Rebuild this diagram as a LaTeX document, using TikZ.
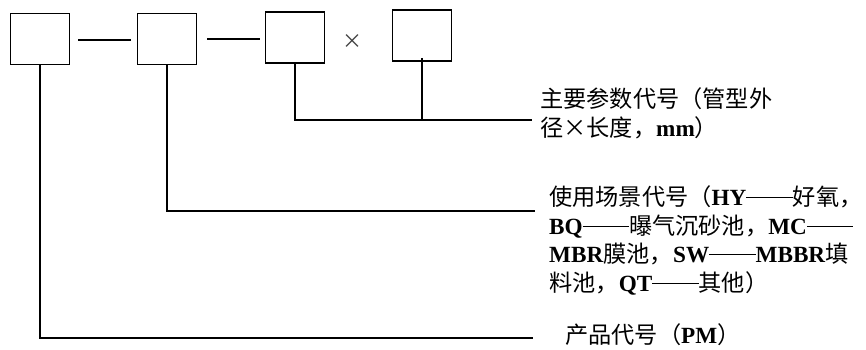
\documentclass[tikz,border=0pt]{standalone}
\usepackage{fontspec}
\setmainfont{Liberation Serif}
\newfontfamily\cjk{Noto Sans CJK SC}
\newcommand{\lat}[1]{\textbf{#1}}
\newcommand{\dd}{\rule[0.3em]{2em}{0.05em}}
\begin{document}
\begin{tikzpicture}[x=1pt,y=-1pt,
  codebox/.style={draw=black,line width=1.8pt,minimum width=59pt,minimum height=51pt,inner sep=0pt},
  lead/.style={draw=black,line width=1.8pt},
  lbl/.style={anchor=west,inner sep=0pt,font=\fontsize{23.2}{28}\selectfont,text height=17pt,text depth=5pt}]
\useasboundingbox (0,0) rectangle (866,349);
% boxes
\node[codebox] (b1) at (40,39) {};
\node[codebox] (b2) at (167,39) {};
\node[codebox] (b3) at (295,37.5) {};
\node[codebox] (b4) at (422,35.5) {};
\node[inner sep=0pt,font=\fontsize{20}{20}\selectfont\cjk,text=black!75] (x) at (352,42) {×};
% dashes between boxes
\draw[lead] ([xshift=8pt]b1.east |- 0,40) -- ([xshift=-6pt]b2.west |- 0,40);
\draw[lead] ([xshift=10pt]b2.east |- 0,39) -- ([xshift=-5pt]b3.west |- 0,39);
% labels
\node[lbl] (t1a) at (540,101) {\cjk 主要参数代号（管型外};
\node[lbl] (t1b) at (540,130) {{\cjk 径×长度，}\lat{mm}{\cjk ）}};
\node[lbl] (t2a) at (549,199) {{\cjk 使用场景代号（}\lat{HY}\dd{\cjk 好氧，}};
\node[lbl] (t2b) at (549,228) {\lat{BQ}\dd{\cjk 曝气沉砂池，}\lat{MC}\dd};
\node[lbl] (t2c) at (549,256) {\lat{MBR}{\cjk 膜池，}\lat{SW}\dd\lat{MBBR}{\cjk 填}};
\node[lbl] (t2d) at (549,285) {{\cjk 料池，}\lat{QT}\dd{\cjk 其他）}};
\node[lbl] (t3) at (565,337) {{\cjk 产品代号（}\lat{PM}{\cjk ）}};
% leader end points
\coordinate (e1) at (532,120);
\coordinate (e2) at (535,211);
\coordinate (e3) at (533,338);
% leaders
\draw[lead] (b3.south) |- (e1);
\draw[lead] ([yshift=4pt]b4.south) -- (b4.south |- e1);
\draw[lead] (b2.south) |- (e2);
\draw[lead] (b1.south) |- (e3);
\end{tikzpicture}
\end{document}
